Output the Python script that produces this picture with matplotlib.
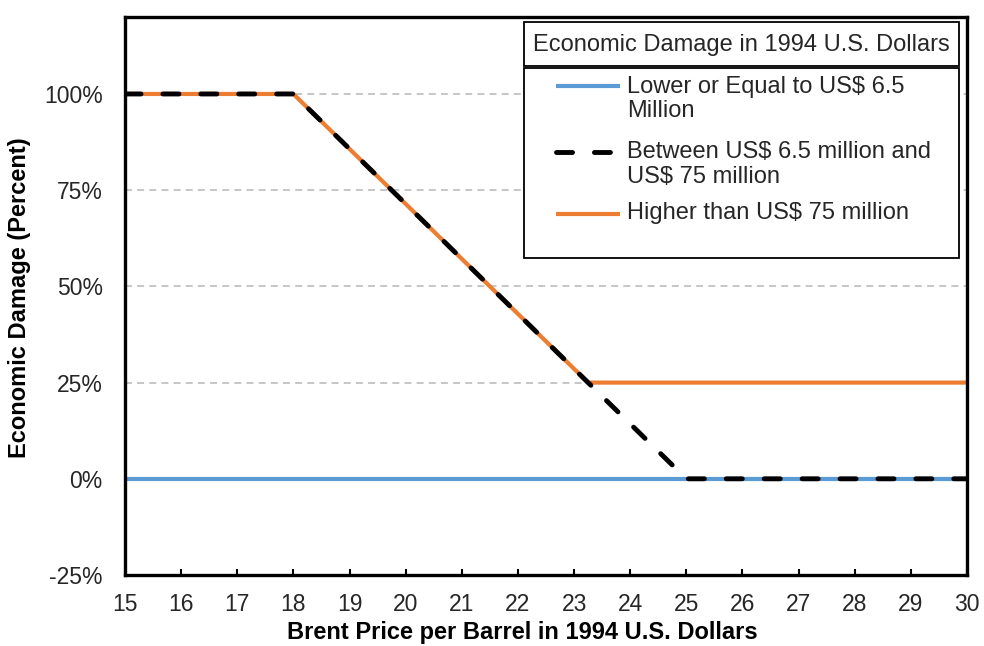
import matplotlib
matplotlib.use("Agg")
import matplotlib.pyplot as plt
from matplotlib.lines import Line2D
from matplotlib.patches import Rectangle
from matplotlib.ticker import FuncFormatter

plt.rcParams['font.family'] = ['Liberation Sans', 'DejaVu Sans']

# ---- data ----
low_x = [15, 30]
low_y = [0, 0]
mid_x = [15, 18, 25, 30]
mid_y = [100, 100, 0, 0]
high_x = [15, 18, 23.25, 30]
high_y = [100, 100, 25, 25]

x_ticks = list(range(15, 31))
y_ticks = [-25, 0, 25, 50, 75, 100]

legend_title = "Economic Damage in 1994 U.S. Dollars"
label_low = "Lower or Equal to US$ 6.5\nMillion"
label_mid = "Between US$ 6.5 million and\nUS$ 75 million"
label_high = "Higher than US$ 75 million"

BLUE = "#5B9BD5"
ORANGE = "#ED7D31"
TXT = "#262626"

fig = plt.figure(figsize=(9.84, 6.46), dpi=100)
W, H = 984, 646
L, R, T, B = 125, 967, 17, 575
ax = fig.add_axes([L / W, 1 - B / H, (R - L) / W, (B - T) / H])

ax.plot(low_x, low_y, color=BLUE, lw=3.0, zorder=3, solid_capstyle='butt')
ax.plot(high_x, high_y, color=ORANGE, lw=3.0, zorder=4, solid_capstyle='butt')
ax.plot(mid_x, mid_y, color='black', lw=3.5, zorder=5, dashes=(3.3, 4.5),
        dash_capstyle='round')

ax.set_xlim(15, 30)
ax.set_ylim(-25, 120)
ax.set_xticks(x_ticks)
ax.set_yticks(y_ticks)
ax.yaxis.set_major_formatter(FuncFormatter(lambda v, p: f"{int(v)}%"))
ax.grid(axis='y', color='#BFBFBF', lw=1.25, dashes=(4, 3), zorder=1)
ax.set_axisbelow(True)

for s in ax.spines.values():
    s.set_linewidth(2.4)
    s.set_color('black')
    s.set_zorder(6)

ax.tick_params(axis='x', direction='in', length=4.5, width=1.5, pad=13,
               labelsize=16.5, labelcolor=TXT, top=False)
ax.tick_params(axis='y', length=0, pad=16, labelsize=16.5, labelcolor=TXT)

fig.text(522 / W, 1 - 633 / H, "Brent Price per Barrel in 1994 U.S. Dollars",
         ha='center', va='center', fontsize=17, fontweight='bold', color='black')
fig.text(20 / W, 1 - 298 / H, "Economic Damage (Percent)", rotation=90,
         ha='center', va='center', fontsize=17, fontweight='bold', color='black')

# ---- legend (manual, in axes coords) ----
def ax_x(px):
    return (px - L) / (R - L)

def ax_y(py):
    return (B - py) / (B - T)

tr = ax.transAxes
ax.add_patch(Rectangle((ax_x(524), ax_y(66)), ax_x(959) - ax_x(524), ax_y(22) - ax_y(66),
                       transform=tr, fill=True, facecolor='white', edgecolor='black',
                       lw=1.3, zorder=7, clip_on=False))
ax.add_patch(Rectangle((ax_x(524), ax_y(258)), ax_x(959) - ax_x(524), ax_y(68) - ax_y(258),
                       transform=tr, fill=True, facecolor='white', edgecolor='black',
                       lw=1.3, zorder=7, clip_on=False))
ax.text(ax_x(741.5), ax_y(45), legend_title, transform=tr, ha='center', va='center',
        fontsize=17, color=TXT, zorder=8)

hx0, hx1, tx = ax_x(556), ax_x(620), ax_x(627)
entries = [
    (label_low, 86, 99, dict(color=BLUE, lw=3.0, solid_capstyle='butt')),
    (label_mid, 152, 164.5, dict(color='black', lw=3.5, dashes=(3.3, 4.5), dash_capstyle='round')),
    (label_high, 214, 213, dict(color=ORANGE, lw=3.0, solid_capstyle='butt')),
]
for lab, ly, ty, kw in entries:
    ax.add_line(Line2D([hx0, hx1], [ax_y(ly), ax_y(ly)], transform=tr, zorder=8,
                       clip_on=False, **kw))
    ax.text(tx, ax_y(ty), lab, transform=tr, ha='left', va='center', fontsize=17,
            color=TXT, zorder=8, linespacing=1.12)

fig.savefig("out.png", dpi=100)
